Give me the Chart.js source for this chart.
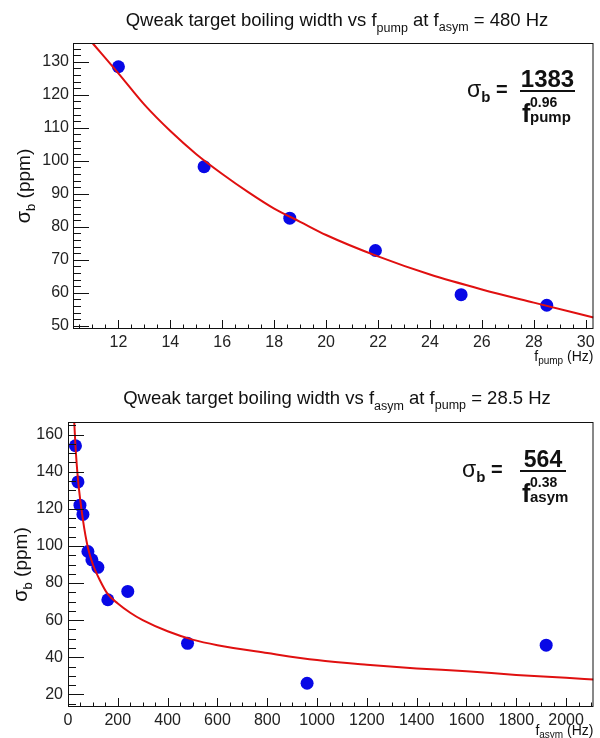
<!DOCTYPE html>
<html>
<head>
<meta charset="utf-8">
<script src="https://cdn.jsdelivr.net/npm/chart.js@4.4.1/dist/chart.umd.min.js"></script>
<style>
  body { margin: 0; background: #fff; }
  canvas { position: absolute; left: 0; }
</style>
</head>
<body>
<canvas id="pumpChart" width="600" height="369" style="top:0"></canvas>
<canvas id="asymChart" width="600" height="369" style="top:369px"></canvas>
<script>
// boiling width vs pump frequency (f_asym = 480 Hz)
const pumpFreq = [12, 15.3, 18.6, 21.9, 25.2, 28.5];
const pumpWidth = [128.5, 98.2, 82.6, 72.8, 59.4, 56.2];
// red fit curve
const pumpFitFreq = [11.0, 12, 13, 14, 15, 16, 17, 18, 19, 20, 22, 24, 26, 28, 30.3];
const pumpFitWidth = [135.7, 126.5, 117, 109, 102, 96, 90.5, 85.5, 81.5, 77.5, 71, 65.5, 61, 57, 52.5];

// boiling width vs asymmetry frequency (f_pump = 28.5 Hz)
const asymFreq = [30, 40, 48, 60, 80, 96, 120, 160, 240, 480, 960, 1920];
const asymWidth = [154, 134.5, 122, 117, 97, 92.5, 88.5, 71, 75.5, 47.5, 26, 46.5];
const asymFitFreq = [25, 30, 40, 60, 80, 100, 130, 160, 200, 250, 300, 400, 500, 600, 800, 1000, 1200, 1400, 1600, 1800, 2000, 2110];
const asymFitWidth = [167, 154, 136, 114, 99, 90, 81, 74, 69, 64, 60, 54, 49.5, 46.5, 42.3, 38.5, 36, 34, 32.5, 30.5, 29, 28];

const FONT = '"Liberation Sans", Arial, Helvetica, sans-serif';

function toXY(xs, ys) {
  return xs.map((x, i) => ({ x: x, y: ys[i] }));
}

// draw a run of text pieces: [text, size, dy, bold]
function drawRich(ctx, parts, x, y, align) {
  let w = 0;
  parts.forEach(p => {
    ctx.font = (p[3] ? 'bold ' : '') + p[1] + 'px ' + FONT;
    w += ctx.measureText(p[0]).width;
  });
  let cx = align === 'center' ? x - w / 2 : align === 'right' ? x - w : x;
  parts.forEach(p => {
    ctx.font = (p[3] ? 'bold ' : '') + p[1] + 'px ' + FONT;
    ctx.fillText(p[0], cx, y + (p[2] || 0));
    cx += ctx.measureText(p[0]).width;
  });
}

function rootDecor(cfg) {
  return {
    id: 'rootDecor',
    afterDatasetsDraw(chart) {
      const ctx = chart.ctx;
      const a = chart.chartArea;
      const xs = chart.scales.x, ys = chart.scales.y;
      ctx.save();
      ctx.strokeStyle = '#111';
      ctx.lineWidth = 1;
      ctx.strokeRect(a.left + 0.5, a.top + 0.5, a.right - a.left - 1, a.bottom - a.top - 1);

      ctx.beginPath();
      for (let i = Math.ceil(xs.min / cfg.xMinor); i * cfg.xMinor <= xs.max; i++) {
        const v = i * cfg.xMinor;
        const major = Math.abs(v / cfg.xMajor - Math.round(v / cfg.xMajor)) < 1e-6;
        const px = Math.round(xs.getPixelForValue(v)) + 0.5;
        ctx.moveTo(px, a.bottom);
        ctx.lineTo(px, a.bottom - (major ? 9 : 4.5));
      }
      for (let i = Math.ceil(ys.min / cfg.yMinor); i * cfg.yMinor <= ys.max; i++) {
        const v = i * cfg.yMinor;
        const major = Math.abs(v / cfg.yMajor - Math.round(v / cfg.yMajor)) < 1e-6;
        const py = Math.round(ys.getPixelForValue(v)) + 0.5;
        ctx.moveTo(a.left, py);
        ctx.lineTo(a.left + (major ? 16 : 8), py);
      }
      ctx.stroke();

      ctx.fillStyle = '#111';
      ctx.textBaseline = 'alphabetic';
      // title
      drawRich(ctx, cfg.title, 337, cfg.titleY, 'center');
      // x axis title
      drawRich(ctx, cfg.xTitle, a.right, cfg.xTitleY, 'right');
      // y axis title
      ctx.save();
      ctx.translate(cfg.yTitleX, (a.top + a.bottom) / 2);
      ctx.rotate(-Math.PI / 2);
      drawRich(ctx, [['σ', 20, 0], ['b', 13, 5], [' (ppm)', 19, 0]], 0, 0, 'center');
      ctx.restore();

      // fit formula
      const f = cfg.formula;
      drawRich(ctx, [['σ', 23, 0], ['b', 15, 5, true]], f.x, f.y, 'left');
      drawRich(ctx, [['=', 20, 0, true]], f.x + 29, f.y - 1, 'left');
      drawRich(ctx, [[f.num, f.numSize, 0, true]], (f.lineL + f.lineR) / 2, f.y - 10, 'center');
      ctx.fillRect(f.lineL, f.y - 7, f.lineR - f.lineL, 2);
      drawRich(ctx, [['f', 25, 0, true]], f.lineL + 2, f.y + 25, 'left');
      drawRich(ctx, [[f.pow, 14, 0, true]], f.lineL + 10, f.y + 10, 'left');
      drawRich(ctx, [[f.sub, 15, 0, true]], f.lineL + 10, f.y + 25, 'left');
      ctx.restore();
    }
  };
}

function makeChart(id, pts, fit, axes, pad, cfg) {
  return new Chart(document.getElementById(id), {
    type: 'scatter',
    data: {
      datasets: [
        {
          data: fit,
          showLine: true,
          borderColor: '#e01010',
          borderWidth: 2,
          pointRadius: 0,
          cubicInterpolationMode: 'monotone',
          clip: 0
        },
        {
          data: pts,
          backgroundColor: '#0808e6',
          borderWidth: 0,
          pointRadius: 6.5,
          clip: 0
        }
      ]
    },
    options: {
      responsive: false,
      animation: false,
      layout: { padding: { top: pad.top, right: pad.right, left: 0, bottom: 0 } },
      plugins: { legend: { display: false }, tooltip: { enabled: false } },
      scales: {
        x: {
          type: 'linear',
          min: axes.xMin, max: axes.xMax,
          grid: { display: false, drawTicks: false },
          border: { display: false },
          afterFit: s => { s.height = pad.bottom; },
          ticks: {
            stepSize: axes.xStep, includeBounds: false, padding: 4,
            color: '#222', font: { family: FONT, size: 16 }, maxRotation: 0,
            callback: v => String(v)
          }
        },
        y: {
          type: 'linear',
          min: axes.yMin, max: axes.yMax,
          grid: { display: false, drawTicks: false },
          border: { display: false },
          afterFit: s => { s.width = pad.left; },
          ticks: {
            stepSize: axes.yStep, includeBounds: false, padding: pad.yPad,
            color: '#222', font: { family: FONT, size: 16 },
            callback: v => String(v)
          }
        }
      }
    },
    plugins: [rootDecor(cfg)]
  });
}

makeChart('pumpChart',
  toXY(pumpFreq, pumpWidth), toXY(pumpFitFreq, pumpFitWidth),
  { xMin: 10.25, xMax: 30.3, xStep: 2, yMin: 49, yMax: 135.7, yStep: 10 },
  { top: 43, right: 2, bottom: 40, left: 73, yPad: 4 },
  {
    xMajor: 2, xMinor: 0.5, yMajor: 10, yMinor: 2,
    title: [['Qweak target boiling width vs f', 18.5], ['pump', 12.5, 6], [' at f', 18.5], ['asym', 12.5, 5], [' = 480 Hz', 18.5]],
    titleY: 26,
    xTitle: [['f', 14], ['pump', 10, 3], [' (Hz)', 14]],
    xTitleY: 361,
    yTitleX: 30,
    formula: { x: 467, y: 97, num: '1383', numSize: 24, pow: '0.96', sub: 'pump', lineL: 520, lineR: 575 }
  });

makeChart('asymChart',
  toXY(asymFreq, asymWidth), toXY(asymFitFreq, asymFitWidth),
  { xMin: 0, xMax: 2110, xStep: 200, yMin: 13.2, yMax: 166.8, yStep: 20 },
  { top: 53, right: 5, bottom: 31, left: 68, yPad: 5 },
  {
    xMajor: 200, xMinor: 50, yMajor: 20, yMinor: 5,
    title: [['Qweak target boiling width vs f', 18.5], ['asym', 12.5, 6], [' at f', 18.5], ['pump', 12.5, 5], [' = 28.5 Hz', 18.5]],
    titleY: 35,
    xTitle: [['f', 14], ['asym', 10, 3], [' (Hz)', 14]],
    xTitleY: 366,
    yTitleX: 27,
    formula: { x: 462, y: 108, num: '564', numSize: 23, pow: '0.38', sub: 'asym', lineL: 520, lineR: 566 }
  });
</script>
</body>
</html>
